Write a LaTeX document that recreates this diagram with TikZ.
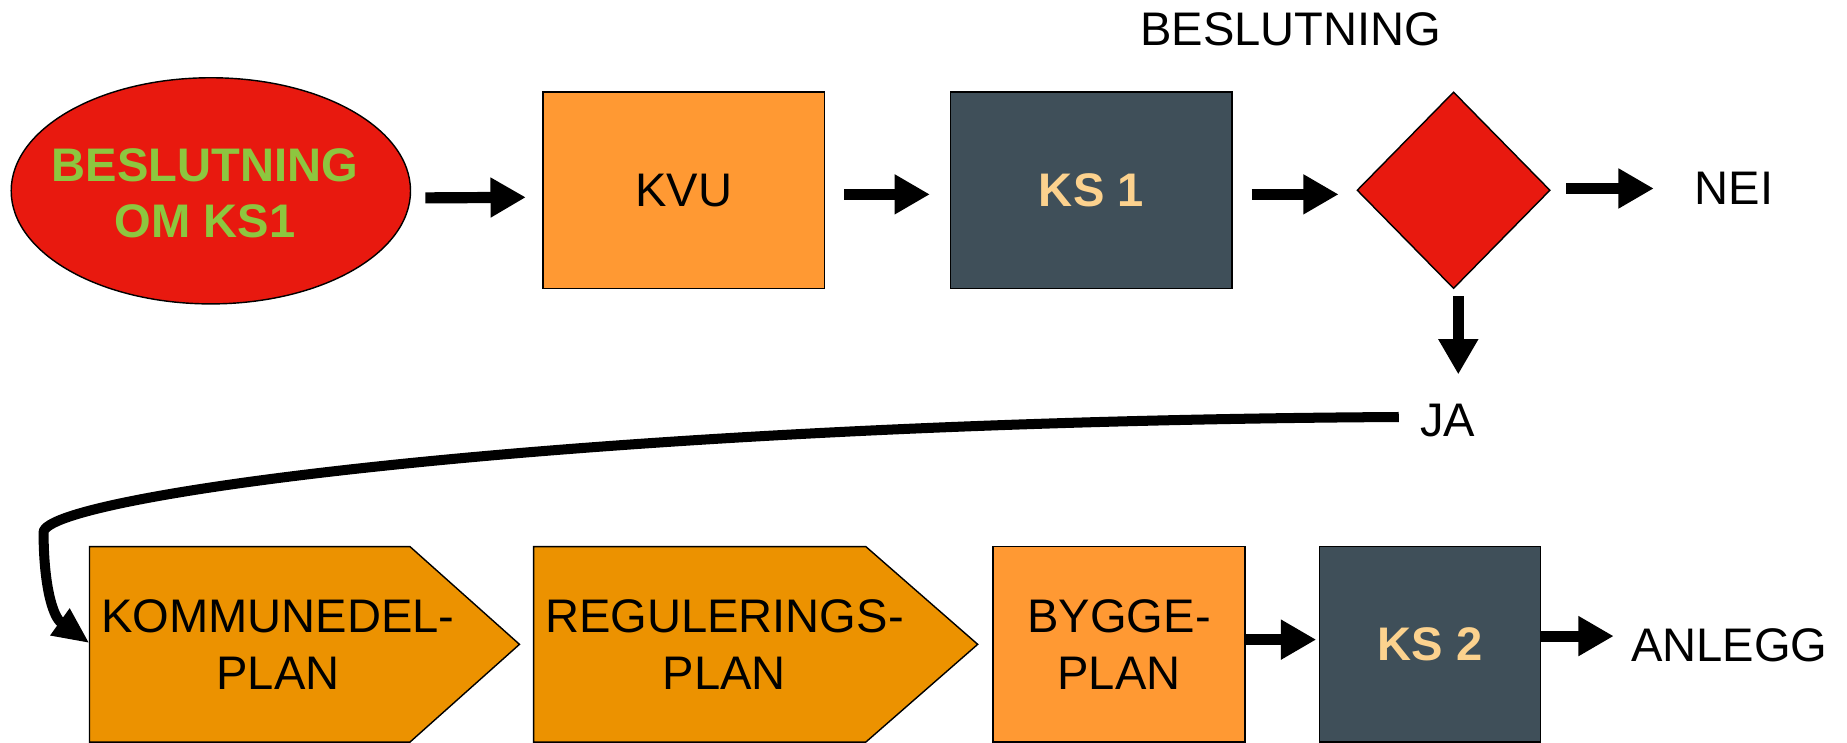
\documentclass[tikz,border=0pt]{standalone}
\usepackage{fontspec}
\setmainfont{Liberation Sans}
\usetikzlibrary{shapes.geometric,arrows.meta}
\definecolor{dred}{HTML}{E8190F}
\definecolor{lgreen}{HTML}{8DC63F}
\definecolor{lorange}{HTML}{FF9933}
\definecolor{dorange}{HTML}{EC9200}
\definecolor{slate}{HTML}{3F4F59}
\definecolor{peach}{HTML}{FCD28E}
\begin{document}
\begin{tikzpicture}[x=1pt,y=-1pt,
  every node/.style={font=\fontsize{40}{48}\selectfont, inner sep=0pt, align=center},
  boldtext/.style={font=\fontsize{40}{48}\selectfont\bfseries},
  shapeline/.style={draw=black, line width=1.2pt},
  box/.style={shapeline, rectangle},
  barrow/.style={line width=9.5pt, -{Triangle[length=30pt,width=32pt]}},
  carrow/.style={line width=8.5pt, -{Triangle[length=31pt,width=26pt]}},
]
\clip (0,0) rectangle (1568,630);

% top row
\node[shapeline, ellipse, fill=dred, minimum width=339pt, minimum height=192pt] (ell) at (179,162) {};
\node[boldtext, text=lgreen] (elltext) at (174,164) {BESLUTNING\\OM KS1};
\node[box, fill=lorange, minimum width=239pt, minimum height=167pt] (kvu) at (580.5,161.5) {KVU};
\node[box, fill=slate, minimum width=239pt, minimum height=167pt, boldtext, text=peach] (ks1) at (926.5,161.5) {KS 1};
\node[shapeline, diamond, fill=dred, minimum width=164pt, minimum height=167pt] (dia) at (1234,161.5) {};
\node (besl) at (1096,25) {BESLUTNING};
\node (nei) at (1472,160) {NEI};
\node (ja) at (1229,357) {JA};

\draw[barrow] ([shift={(12,6)}]ell.east) -- ([shift={(-14,6)}]kvu.west);
\draw[barrow] ([shift={(16,3.5)}]kvu.east) -- ([shift={(-17,3.5)}]ks1.west);
\draw[barrow] ([shift={(16,3.5)}]ks1.east) -- ([shift={(-15,3.5)}]dia.west);
\draw[barrow] ([shift={(13,-1.5)}]dia.east) -- ([shift={(-34.5,0)}]nei.west);
\draw[barrow] ([shift={(4,6)}]dia.south) -- ([shift={(9,-25)}]ja.north);

% bottom row
\filldraw[shapeline, fill=dorange] (76,464) -- (348,464) -- (441,547) -- (348,630) -- (76,630) -- cycle;
\filldraw[shapeline, fill=dorange] (453,464) -- (735,464) -- (830,547) -- (735,630) -- (453,630) -- cycle;
\node (kom) at (236,547) {KOMMUNEDEL-\\PLAN};
\node (reg) at (615,547) {REGULERINGS-\\PLAN};
\coordinate (komin) at (76,546);
\node[box, fill=lorange, minimum width=214pt, minimum height=166pt] (bygge) at (950,547) {BYGGE-\\PLAN};
\node[box, fill=slate, minimum width=188pt, minimum height=166pt, boldtext, text=peach] (ks2) at (1214,547) {KS 2};
\node (anlegg) at (1468,548) {ANLEGG};

\draw[barrow] ([shift={(0,-4)}]bygge.east) -- ([shift={(-2,-4)}]ks2.west);
\draw[barrow] ([shift={(0,-7)}]ks2.east) -- ([shift={(-14.5,-8)}]anlegg.west);

\draw[carrow] ([shift={(-18,-3)}]ja.west) .. controls (500,358) and (37,420) .. (37,452)
  .. controls (37,494) and (44,523) .. (komin);
\end{tikzpicture}
\end{document}
